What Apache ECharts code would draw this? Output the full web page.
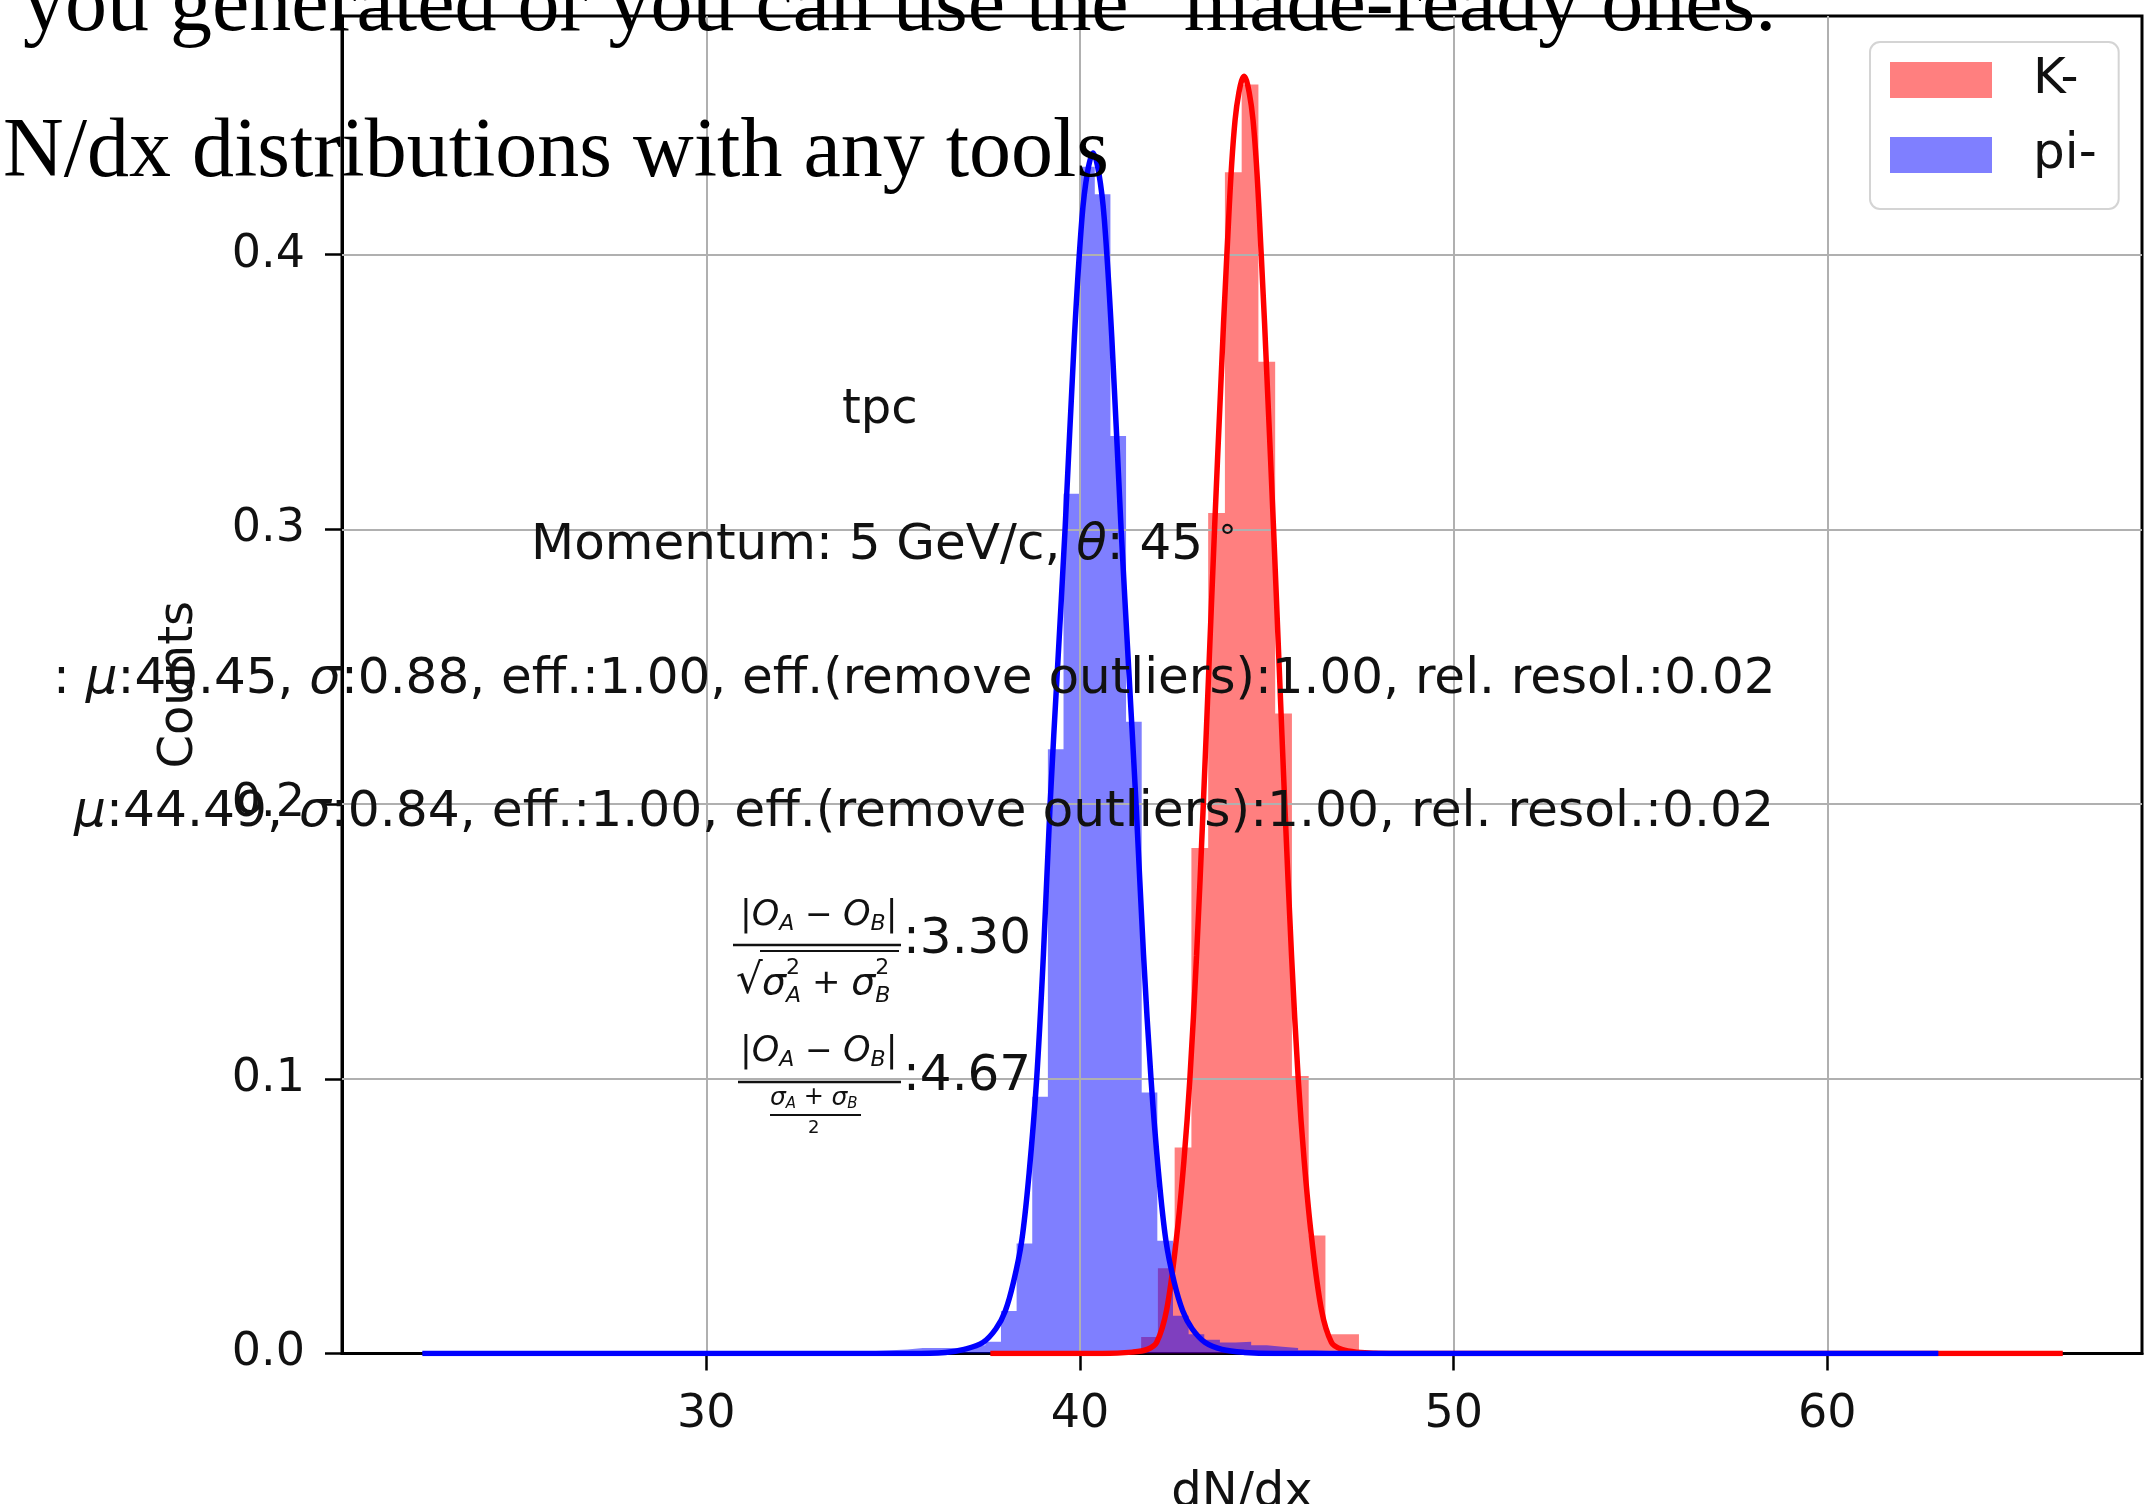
<!DOCTYPE html>
<html>
<head>
<meta charset="utf-8">
<script src="https://cdn.jsdelivr.net/npm/echarts@6/dist/echarts.min.js"></script>
<style>
  html, body { margin: 0; padding: 0; background: #fff; }
  #main { width: 2148px; height: 1504px; }
</style>
</head>
<body>
<div id="main"></div>
<script>
// histogram bins (density)
var piStart = 22.4;
var piBinWidth = 0.4185;
var piHeights = [
  0.0006, 0, 0.0003, 0, 0, 0.0003, 0, 0, 0, 0.0003,
  0, 0.0003, 0, 0, 0.0003, 0, 0.0003, 0, 0.0003, 0.0003,
  0, 0.0006, 0.0003, 0.0003, 0.0006, 0.0006, 0.0009, 0.0006, 0.0009, 0.0012,
  0.0015, 0.002, 0.002, 0.002, 0.002, 0.003, 0.0043, 0.0155, 0.040, 0.0935,
  0.22, 0.313, 0.432, 0.422, 0.334, 0.23, 0.095, 0.041, 0.0137, 0.007,
  0.005, 0.004, 0.0043, 0.003, 0.0025, 0.002, 0.0012, 0.0009, 0.0009, 0.0006,
  0.0006, 0.0003, 0.0003, 0, 0.0003, 0, 0, 0.0003, 0, 0,
  0.0003, 0, 0, 0, 0.0003, 0, 0, 0, 0, 0.0003,
  0, 0, 0, 0, 0, 0.0003, 0, 0, 0, 0,
  0, 0, 0, 0, 0, 0, 0.0003
];
var kStart = 37.6;
var kBinWidth = 0.4484;
var kHeights = [
  0.0005, 0, 0, 0.0005, 0, 0.0005, 0.0005, 0.001,
  0.0015, 0.006, 0.031, 0.075, 0.184, 0.306, 0.43, 0.462, 0.361, 0.233, 0.101, 0.043, 0.007, 0.007,
  0.001, 0.0005, 0, 0.0005, 0, 0, 0.0005, 0, 0, 0,
  0.0005, 0, 0, 0, 0, 0.0005, 0, 0, 0, 0,
  0, 0.0005, 0, 0, 0, 0, 0, 0, 0, 0.0005,
  0, 0, 0, 0, 0, 0, 0, 0, 0, 0,
  0, 0.0005
];

// fitted gaussian curves
var piCurveX = [22.4, 35.5, 36.4, 36.9, 37.4, 37.75, 38.0, 38.22, 38.44, 38.64, 38.84, 39.02, 39.2, 39.4, 39.6, 39.85, 40.05, 40.2, 40.35,
  40.5, 40.65, 40.85, 41.1, 41.3, 41.5, 41.7, 41.9, 42.1, 42.3, 42.52, 42.75, 43.0, 43.35, 43.8, 44.4, 45.2, 62.97];
var piCurveY = [0, 0, 0.0004, 0.0015, 0.004, 0.009, 0.0155, 0.026, 0.041, 0.066, 0.1, 0.145, 0.2, 0.25, 0.3, 0.37, 0.413, 0.43, 0.437,
  0.43, 0.413, 0.37, 0.3, 0.25, 0.2, 0.145, 0.1, 0.066, 0.041, 0.026, 0.0155, 0.009, 0.004, 0.0015, 0.0004, 0, 0];
var kCurveX = [37.6, 40.6, 41.4, 41.8, 42.05, 42.32, 42.59, 42.78, 42.94, 43.12, 43.3, 43.45, 43.6, 43.76, 43.93, 44.15, 44.39,
  44.63, 44.85, 45.02, 45.18, 45.33, 45.48, 45.66, 45.84, 46.0, 46.19, 46.46, 46.73, 47.0, 47.4, 48.3, 66.3];
var kCurveY = [0, 0, 0.0005, 0.0015, 0.004, 0.016, 0.043, 0.07, 0.1, 0.145, 0.2, 0.25, 0.3, 0.35, 0.4, 0.449, 0.465,
  0.449, 0.4, 0.35, 0.3, 0.25, 0.2, 0.145, 0.1, 0.07, 0.043, 0.016, 0.004, 0.0015, 0.0005, 0, 0];

var xTicks = [30, 40, 50, 60];
var yTicks = [0, 0.1, 0.2, 0.3, 0.4];
var legendNames = ['K-', 'pi-'];

var ink = '#111';
var sans = 'DejaVu Sans';

function stepPoints(start, width, heights) {
  var pts = heights.map(function (h, k) { return [start + k * width, h]; });
  pts.push([start + heights.length * width, heights[heights.length - 1]]);
  return pts;
}
function zip(xs, ys) {
  return xs.map(function (x, i) { return [x, ys[i]]; });
}

// lay out a row of text pieces left to right; each piece: [text, size, italic, dy, noAdvance]
var measure = document.createElement('canvas').getContext('2d');
function row(x, y, pieces) {
  var out = [];
  pieces.forEach(function (p) {
    var font = (p[2] ? 'italic ' : '') + p[1] + 'px "' + sans + '"';
    out.push({
      type: 'text', x: x, y: y + (p[3] || 0), z: 100,
      style: {
        text: p[0], fontSize: p[1], fontFamily: sans,
        fontStyle: p[2] ? 'italic' : 'normal', fill: ink,
        textAlign: 'left', textVerticalAlign: 'middle'
      }
    });
    measure.font = font;
    if (!p[4]) x += measure.measureText(p[0]).width;
  });
  return out;
}
function bar(x1, x2, y, w) {
  return { type: 'line', z: 100, shape: { x1: x1, y1: y, x2: x2, y2: y }, style: { stroke: ink, lineWidth: w || 2.5 } };
}

var texts = [];
texts = texts.concat(row(842, 411, [['tpc', 48]]));
texts = texts.concat(row(531, 546, [
  ['Momentum: 5 GeV/c, ', 50], ['θ', 50, true], [': 45 ', 50], ['°', 34, false, -6]
]));
texts = texts.concat(row(53, 680, [
  [': ', 50], ['μ', 50, true], [':40.45, ', 50], ['σ', 50, true],
  [':0.88, eff.:1.00, eff.(remove outliers):1.00, rel. resol.:0.02', 50]
]));
texts = texts.concat(row(74, 813, [
  ['μ', 50.3, true], [':44.49, ', 50.3], ['σ', 50.3, true],
  [':0.84, eff.:1.00, eff.(remove outliers):1.00, rel. resol.:0.02', 50.3]
]));
// first separation measure
texts = texts.concat(row(740, 916, [
  ['|', 35], ['O', 35, true], ['A', 22, true, 8], [' − ', 33], ['O', 35, true], ['B', 22, true, 8], ['|', 35]
]));
texts.push(bar(733, 901, 945));
texts = texts.concat(row(736, 982, [['√', 42]]));
texts.push(bar(760, 899, 951, 2));
texts = texts.concat(row(762, 984, [
  ['σ', 38, true], ['2', 22, false, -16, true], ['A', 22, true, 12], [' + ', 34],
  ['σ', 38, true], ['2', 22, false, -16, true], ['B', 22, true, 12]
]));
texts = texts.concat(row(903, 940, [[':3.30', 50]]));
// second separation measure
texts = texts.concat(row(740, 1052, [
  ['|', 35], ['O', 35, true], ['A', 22, true, 8], [' − ', 33], ['O', 35, true], ['B', 22, true, 8], ['|', 35]
]));
texts.push(bar(738, 901, 1082));
texts = texts.concat(row(770, 1098, [
  ['σ', 25, true], ['A', 15, true, 6], [' + ', 24], ['σ', 25, true], ['B', 15, true, 6]
]));
texts.push(bar(770, 861, 1115, 2));
texts = texts.concat(row(808, 1128, [['2', 18]]));
texts = texts.concat(row(903, 1077, [[':4.67', 50]]));

// page text lying over the figure
texts.push({
  type: 'text', x: 23, y: 8, z: 110,
  style: { text: 'you generated or you can use the "made-ready ones.', fontSize: 84, fontFamily: 'Liberation Serif', fill: '#000', textAlign: 'left', textVerticalAlign: 'middle' }
});
texts.push({
  type: 'text', x: 3, y: 154, z: 110,
  style: { text: 'N/dx distributions with any tools', fontSize: 84, fontFamily: 'Liberation Serif', fill: '#000', textAlign: 'left', textVerticalAlign: 'middle' }
});

var gridLines = xTicks.map(function (v) { return { xAxis: v }; })
  .concat(yTicks.filter(function (v) { return v > 0; }).map(function (v) { return { yAxis: v }; }));

var option = {
  animation: false,
  backgroundColor: '#fff',
  textStyle: { fontFamily: sans },
  grid: {
    left: 342, right: 6, top: 16, bottom: 150.5,
    containLabel: false, outerBoundsMode: 'none',
    show: true, borderColor: '#000', borderWidth: 3, backgroundColor: 'transparent'
  },
  legend: {
    left: 1870, top: 42, orient: 'vertical',
    data: [
      { name: legendNames[0], icon: 'rect', itemStyle: { color: 'rgba(255,0,0,0.5)' } },
      { name: legendNames[1], icon: 'rect', itemStyle: { color: 'rgba(0,0,255,0.5)' } }
    ],
    itemWidth: 102, itemHeight: 36, itemGap: 25,
    padding: [13, 22, 29, 20],
    backgroundColor: 'rgba(255,255,255,0.8)',
    borderColor: '#d4d4d4', borderWidth: 2, borderRadius: 10,
    textStyle: { fontSize: 50, color: ink, fontFamily: sans, lineHeight: 36, padding: [0, 0, 0, 36] }
  },
  xAxis: {
    type: 'value', min: 20.25, max: 68.42,
    name: 'dN/dx', nameLocation: 'middle', nameGap: 116,
    nameTextStyle: { fontSize: 48, color: ink, fontFamily: sans },
    axisLine: { show: true, lineStyle: { color: '#000', width: 3 } },
    axisTick: { show: true, length: 17, inside: false, customValues: xTicks, lineStyle: { color: '#000', width: 2.5 } },
    axisLabel: { customValues: xTicks, fontSize: 46, color: ink, fontFamily: sans, margin: 39 },
    splitLine: { show: false }
  },
  yAxis: {
    type: 'value', min: 0, max: 0.4869,
    name: 'Counts', nameLocation: 'middle', nameGap: 138, nameRotate: 90,
    nameTextStyle: { fontSize: 48, color: ink, fontFamily: sans },
    axisLine: { show: true, lineStyle: { color: '#000', width: 3 } },
    axisTick: { show: true, length: 17, inside: false, customValues: yTicks, lineStyle: { color: '#000', width: 2.5 } },
    axisLabel: {
      customValues: yTicks, fontSize: 46, color: ink, fontFamily: sans, margin: 37,
      formatter: function (v) { return v.toFixed(1); }
    },
    splitLine: { show: false }
  },
  series: [
    {
      name: 'K-', type: 'line', step: 'end', z: 2,
      data: stepPoints(kStart, kBinWidth, kHeights),
      symbol: 'none', lineStyle: { width: 0 },
      itemStyle: { color: 'rgba(255,0,0,0.5)' },
      areaStyle: { color: 'rgba(255,0,0,0.5)', opacity: 1 },
      markLine: {
        silent: true, z: 4, symbol: ['none', 'none'], label: { show: false },
        lineStyle: { color: '#b0b0b0', width: 2, type: 'solid' },
        data: gridLines
      }
    },
    {
      name: 'pi-', type: 'line', step: 'end', z: 3,
      data: stepPoints(piStart, piBinWidth, piHeights),
      symbol: 'none', lineStyle: { width: 0 },
      itemStyle: { color: 'rgba(0,0,255,0.5)' },
      areaStyle: { color: 'rgba(0,0,255,0.5)', opacity: 1 }
    },
    {
      name: 'K- fit', type: 'line', z: 6, smooth: 0.35,
      data: zip(kCurveX, kCurveY), symbol: 'none',
      lineStyle: { color: '#ff0000', width: 5.5 }
    },
    {
      name: 'pi- fit', type: 'line', z: 7, smooth: 0.35,
      data: zip(piCurveX, piCurveY), symbol: 'none',
      lineStyle: { color: '#0000ff', width: 5.5 }
    }
  ],
  graphic: texts
};

var chart = echarts.init(document.getElementById('main'));
chart.setOption(option);
</script>
</body>
</html>
